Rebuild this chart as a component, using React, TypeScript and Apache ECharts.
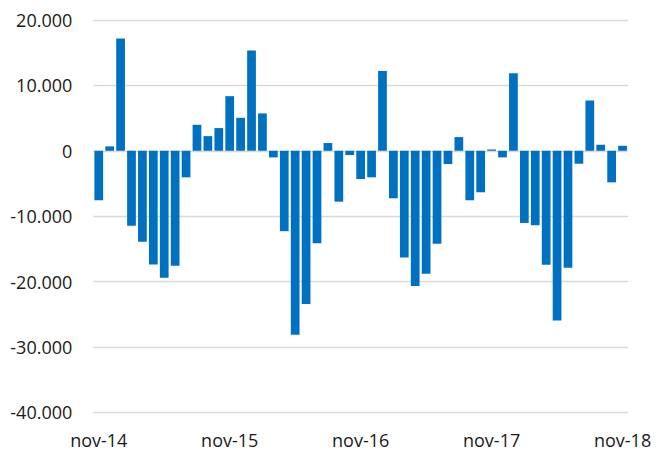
import React, { useEffect, useRef } from "react";
import * as echarts from "echarts";

const monthNames = ["nov", "dic", "ene", "feb", "mar", "abr", "may", "jun", "jul", "ago", "sep", "oct"];
const startYear = 14;
const monthCount = 49;

const categories: string[] = [];
for (let i = 0; i < monthCount; i++) {
  const m = monthNames[i % 12];
  const yy = startYear + Math.floor((i + 10) / 12);
  categories.push(`${m}-${yy}`);
}

const values = [
  -7570, 670, 17160, -11450, -13900, -17400, -19430, -17600, -4060, 3970, 2240, 3470,
  8350, 5040, 15330, 5710, -1010, -12300, -28140, -23450, -14140, 1180, -7790, -660,
  -4320, -4060, 12210, -7270, -16330, -20700, -18820, -14240, -2030, 2090, -7570, -6350,
  200, -1010, 11860, -11040, -11390, -17450, -25950, -17910, -1980, 7690, 920, -4830,
  760,
];

const yMin = -40000;
const yMax = 20000;
const yStep = 10000;

function formatThousands(v: number): string {
  const sign = v < 0 ? "-" : "";
  const s = Math.abs(Math.round(v)).toString();
  return sign + s.replace(/\B(?=(\d{3})+(?!\d))/g, ".");
}

export default function App() {
  const ref = useRef<HTMLDivElement>(null);
  useEffect(() => {
    if (!ref.current) return;
    const chart = echarts.init(ref.current, undefined, { renderer: "svg" });
    const font = "'Open Sans', sans-serif";
    chart.setOption({
      animation: false,
      backgroundColor: "#ffffff",
      grid: { left: 93.3, right: 28, top: 20, bottom: 40.7, containLabel: false },
      xAxis: {
        type: "category",
        data: categories,
        boundaryGap: true,
        axisLine: { show: false },
        axisTick: { show: false },
        splitLine: { show: false },
        axisLabel: {
          interval: 11,
          margin: 19,
          fontFamily: font,
          fontSize: 18,
          color: "#1a1a1a",
        },
      },
      yAxis: {
        type: "value",
        min: yMin,
        max: yMax,
        interval: yStep,
        axisLine: { show: false },
        axisTick: { show: false },
        splitLine: { show: true, lineStyle: { color: "#d9d9d9", width: 1.3 } },
        axisLabel: {
          margin: 21,
          fontFamily: font,
          fontSize: 18,
          color: "#1a1a1a",
          formatter: (v: number) => formatThousands(v),
        },
      },
      series: [
        {
          type: "bar",
          data: values,
          barCategoryGap: "20%",
          itemStyle: { color: "#0070c0" },
        },
      ],
    });
    return () => chart.dispose();
  }, []);
  return (
    <div
      ref={ref}
      style={{ position: "fixed", left: 0, top: 0, width: 656, height: 453, background: "#fff" }}
    />
  );
}
